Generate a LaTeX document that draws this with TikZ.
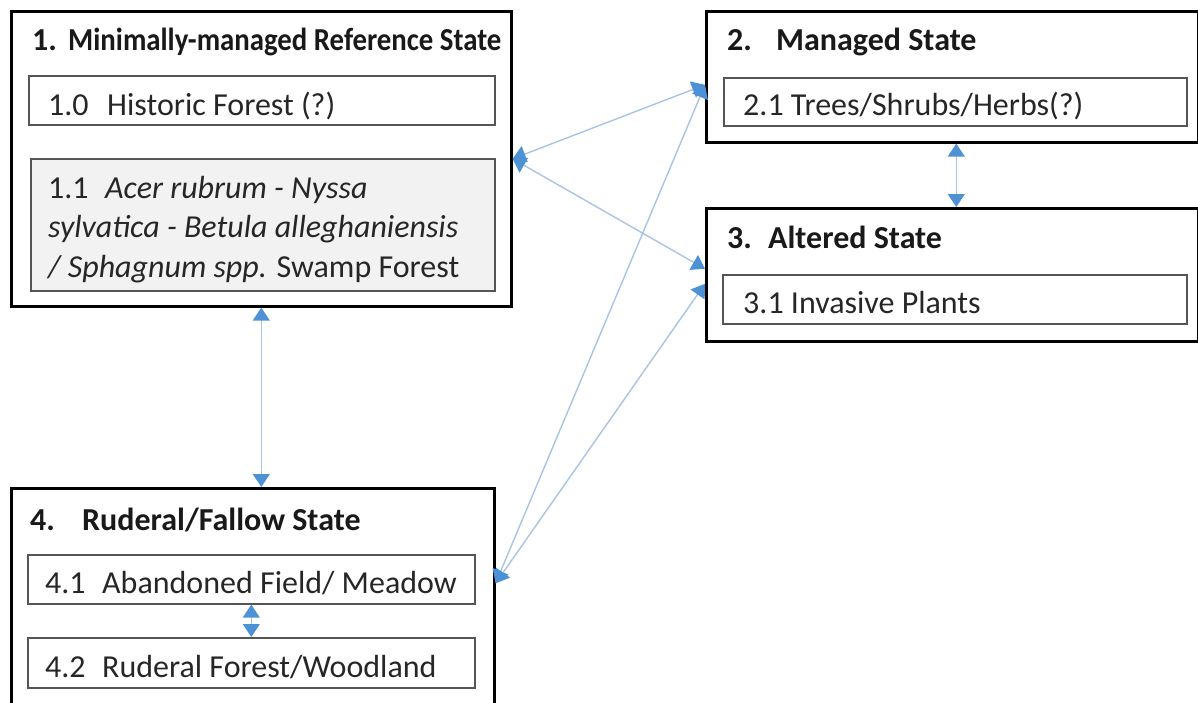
\documentclass[tikz,border=0pt]{standalone}
\usepackage{fontspec}
\setmainfont{Carlito}
\usetikzlibrary{arrows.meta, calc}
\definecolor{linkline}{RGB}{168,196,226}
\definecolor{linktip}{RGB}{78,146,214}
\definecolor{frame}{RGB}{85,85,85}
\begin{document}
\begin{tikzpicture}[x=1pt, y=-1pt,
  state/.style={draw, line width=2.6pt, anchor=north west, inner sep=0pt},
  phase/.style={draw=frame, line width=1.6pt, anchor=north west, inner sep=0pt},
  head/.style={anchor=base west, inner sep=0pt, text=black!90, font=\fontsize{32}{38}\selectfont\bfseries},
  txt/.style={anchor=base west, inner sep=0pt, align=left, text=black!85, font=\fontsize{32}{39.5}\selectfont},
  link/.style={{Triangle[width=17pt,length=13pt,color=linktip]}-{Triangle[width=17pt,length=13pt,color=linktip]}, draw=linkline, line width=1.4pt}]
\useasboundingbox (0,0) rectangle (1198,702);
% states
\node[state, minimum width=500pt, minimum height=295pt] (s1) at (10,10) {};
\node[state, minimum width=492pt, minimum height=131pt] (s2) at (705,10) {};
\node[state, minimum width=492pt, minimum height=133pt] (s3) at (705,207) {};
\node[state, minimum width=483pt, minimum height=230pt] (s4) at (10,487) {};
% phases
\node[phase, minimum width=466pt, minimum height=49pt] (p10) at (28,75) {};
\node[phase, fill=gray!10, minimum width=464pt, minimum height=132pt] (p11) at (30,158) {};
\node[phase, minimum width=463pt, minimum height=48pt] (p21) at (723,77) {};
\node[phase, minimum width=464pt, minimum height=49pt] (p31) at (722,274) {};
\node[phase, minimum width=447pt, minimum height=49pt] (p41) at (27,554) {};
\node[phase, minimum width=447pt, minimum height=50pt] (p42) at (27,637) {};
% titles
\node[head] (h1) at (32,50) {\makebox[36pt][l]{1.}\scalebox{0.9}[1]{Minimally-managed Reference State}};
\node[head] (h2) at (727,50) {\makebox[49pt][l]{2.}Managed State};
\node[head] (h3) at (727,248) {\makebox[41pt][l]{3.}Altered State};
\node[head] (h4) at (30,530) {\makebox[52pt][l]{4.}Ruderal/Fallow State};
% labels
\node[txt] (t10) at (48,115) {\makebox[59pt][l]{1.0}Historic Forest (?)};
\node[txt] (t11) at (48,277) {\makebox[57pt][l]{1.1}\textit{Acer rubrum - Nyssa}\\
  \textit{sylvatica - Betula alleghaniensis}\\
  \textit{/ Sphagnum spp.} Swamp Forest};
\node[txt] (t21) at (743,115) {2.1 Trees/Shrubs/Herbs(?)};
\node[txt] (t31) at (743,313) {3.1 Invasive Plants};
\node[txt] (t41) at (45,593) {\makebox[57pt][l]{4.1}Abandoned Field/ Meadow};
\node[txt] (t42) at (45,677) {\makebox[57pt][l]{4.2}Ruderal Forest/Woodland};
% transitions
\draw[link] (s1.east) -- ($(s2.west)+(0,8)$);
\draw[link] (s1.east) -- ($(s3.west)+(0,-6)$);
\draw[link] ($(s4.east)+(0,-20)$) -- ($(s2.west)+(0,8)$);
\draw[link] ($(s4.east)+(0,-20)$) -- ($(s3.west)+(0,9)$);
\draw[link] (s1.south) -- (s1.south |- s4.north);
\draw[link] ($(s2.south)+(4,0)$) -- ($(s2.south |- s3.north)+(4,0)$);
\draw[link] (p41.south) -- (p42.north);
\end{tikzpicture}
\end{document}
